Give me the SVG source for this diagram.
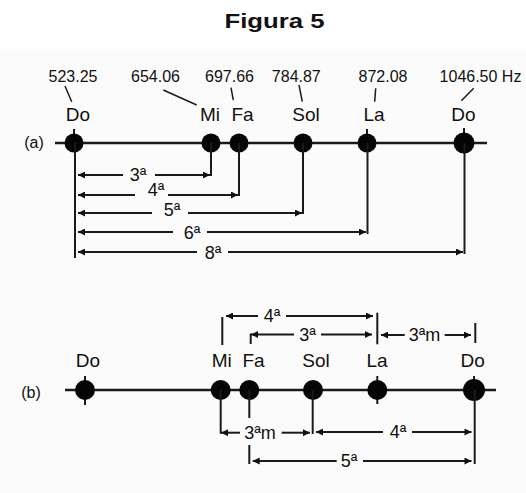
<svg xmlns="http://www.w3.org/2000/svg" width="526" height="493" viewBox="0 0 526 493">
<defs>
<marker id="ah" viewBox="0 0 10 10" refX="10" refY="5" markerWidth="9" markerHeight="7" markerUnits="userSpaceOnUse" orient="auto-start-reverse">
<path d="M0,0 L10,5 L0,10 z" fill="#111"/>
</marker>
<style>
.t{font-family:"Liberation Sans",Arial,sans-serif;fill:#111;text-anchor:middle}
.note{font-size:19px}
.freq{font-size:16px}
.iv{font-size:18px}
.axis{stroke:#1a1a1a;stroke-width:2.5;fill:none}
.ln{stroke:#1a1a1a;stroke-width:2;fill:none}
.ld{stroke:#1a1a1a;stroke-width:1.5;fill:none}
.ar{stroke:#1a1a1a;stroke-width:2;fill:none}
.arl{marker-start:url(#ah)}
.arr{marker-end:url(#ah)}
.dot{fill:#050505}
</style>
</defs>
<rect x="0" y="0" width="526" height="493" fill="#ffffff"/>
<rect x="0" y="49" width="526" height="444" fill="#fbfbfb"/>
<text x="274.5" y="28" font-family="Liberation Sans,Arial,sans-serif" font-weight="bold" font-size="21" text-anchor="middle" textLength="100" lengthAdjust="spacingAndGlyphs" fill="#111">Figura 5</text>

<!-- part (a) -->
<g id="axis-a">
<text class="t" x="34" y="148" style="font-size:16px">(a)</text>
<line class="axis" x1="55" y1="143" x2="487" y2="143"/>
</g>
<g id="a-do1">
<text class="t freq" x="73" y="82">523.25</text>
<line class="ld" x1="65" y1="86" x2="71.7" y2="101.7"/>
<text class="t note" x="78" y="121">Do</text>
<line class="ln" x1="74" y1="129" x2="74" y2="143"/>
<circle class="dot" cx="74" cy="143" r="9.5"/>
</g>
<g id="a-mi">
<text class="t freq" x="155.5" y="82">654.06</text>
<line class="ld" x1="163.3" y1="90" x2="196.7" y2="105"/>
<text class="t note" x="210" y="121">Mi</text>
<circle class="dot" cx="211" cy="143" r="9.5"/>
</g>
<g id="a-fa">
<text class="t freq" x="229.5" y="82">697.66</text>
<line class="ld" x1="231" y1="87.7" x2="233.3" y2="100"/>
<text class="t note" x="242.5" y="121">Fa</text>
<circle class="dot" cx="239" cy="143" r="9.5"/>
</g>
<g id="a-sol">
<text class="t freq" x="296.3" y="82">784.87</text>
<line class="ld" x1="299" y1="85" x2="302.3" y2="101.7"/>
<text class="t note" x="306" y="121">Sol</text>
<circle class="dot" cx="303" cy="143" r="9.5"/>
</g>
<g id="a-la">
<text class="t freq" x="383" y="82">872.08</text>
<line class="ld" x1="375.7" y1="88.3" x2="374.7" y2="101.7"/>
<text class="t note" x="374" y="121">La</text>
<line class="ln" x1="367" y1="129" x2="367" y2="143"/>
<circle class="dot" cx="367" cy="143" r="9.5"/>
</g>
<g id="a-do2">
<text class="t freq" x="480.5" y="82">1046.50 Hz</text>
<line class="ld" x1="473.7" y1="88.3" x2="461.3" y2="100.7"/>
<text class="t note" x="463.5" y="121">Do</text>
<line class="ln" x1="464" y1="128" x2="464" y2="143"/>
<circle class="dot" cx="464" cy="143" r="10.5"/>
</g>

<g id="connectors-a">
<line class="ln" x1="75" y1="143" x2="75" y2="258"/>
<line class="ln" x1="211" y1="143" x2="211" y2="176"/>
<line class="ln" x1="239" y1="143" x2="239" y2="196"/>
<line class="ln" x1="303" y1="143" x2="303" y2="214"/>
<line class="ln" x1="367.5" y1="143" x2="367.5" y2="234"/>
<line class="ln" x1="464.5" y1="143" x2="464.5" y2="254"/>

<line class="ar arl" x1="78" y1="175" x2="123" y2="175"/>
<line class="ar arr" x1="155" y1="175" x2="210" y2="175"/>
<text class="t iv" x="138" y="181">3ª</text>

<line class="ar arl" x1="78" y1="195" x2="135" y2="195"/>
<line class="ar arr" x1="168" y1="195" x2="238" y2="195"/>
<text class="t iv" x="156" y="196">4ª</text>

<line class="ar arl" x1="78" y1="213" x2="152" y2="213"/>
<line class="ar arr" x1="188" y1="213" x2="302" y2="213"/>
<text class="t iv" x="172" y="216">5ª</text>

<line class="ar arl" x1="78" y1="232" x2="173" y2="232"/>
<line class="ar arr" x1="207" y1="232" x2="366" y2="232"/>
<text class="t iv" x="192" y="239">6ª</text>

<line class="ar arl" x1="78" y1="252" x2="197" y2="252"/>
<line class="ar arr" x1="228" y1="252" x2="463" y2="252"/>
<text class="t iv" x="213" y="259">8ª</text>
</g>

<!-- part (b) -->
<g id="axis-b">
<text class="t" x="31" y="398" style="font-size:16px">(b)</text>
<line class="axis" x1="65" y1="390" x2="496" y2="390"/>
</g>
<g id="b-do1">
<text class="t note" x="88" y="367">Do</text>
<line class="ln" x1="85" y1="376" x2="85" y2="405"/>
<circle class="dot" cx="85" cy="390" r="10"/>
</g>
<g id="b-mi">
<text class="t note" x="221.7" y="367">Mi</text>
<circle class="dot" cx="220.7" cy="390" r="10"/>
</g>
<g id="b-fa">
<text class="t note" x="253.5" y="367">Fa</text>
<circle class="dot" cx="249.3" cy="390" r="10"/>
</g>
<g id="b-sol">
<text class="t note" x="316" y="367">Sol</text>
<circle class="dot" cx="313" cy="390" r="10"/>
</g>
<g id="b-la">
<text class="t note" x="377" y="367">La</text>
<line class="ln" x1="377.3" y1="376" x2="377.3" y2="404"/>
<circle class="dot" cx="377.3" cy="390" r="10"/>
</g>
<g id="b-do2">
<text class="t note" x="472.7" y="367">Do</text>
<line class="ln" x1="474" y1="376" x2="474" y2="390"/>
<circle class="dot" cx="474" cy="390" r="11"/>
</g>

<g id="connectors-b">
<!-- above -->
<line class="ln" x1="222.3" y1="317" x2="222.3" y2="345"/>
<line class="ln" x1="377.3" y1="312.7" x2="377.3" y2="344.3"/>
<line class="ln" x1="475.3" y1="323" x2="475.3" y2="343"/>
<line class="ln" x1="250.7" y1="333.5" x2="250.7" y2="344"/>

<line class="ar arl" x1="226" y1="316" x2="258" y2="316"/>
<line class="ar arr" x1="286" y1="316" x2="373" y2="316"/>
<text class="t iv" x="272" y="322">4ª</text>

<line class="ar arl" x1="251" y1="334.5" x2="294" y2="334.5"/>
<line class="ar arr" x1="321" y1="334.5" x2="372" y2="334.5"/>
<text class="t iv" x="307.5" y="341">3ª</text>

<line class="ar arl" x1="381" y1="335" x2="404.7" y2="335"/>
<line class="ar arr" x1="444.7" y1="335" x2="471" y2="335"/>
<text class="t iv" x="424.5" y="341">3ªm</text>

<!-- below -->
<line class="ln" x1="220.7" y1="390" x2="220.7" y2="433.7"/>
<line class="ln" x1="249.3" y1="390" x2="249.3" y2="418"/>
<line class="ln" x1="312.7" y1="390" x2="312.7" y2="434"/>
<line class="ln" x1="474.7" y1="390" x2="474.7" y2="464"/>
<line class="ln" x1="249.3" y1="445" x2="249.3" y2="464"/>

<line class="ar arl" x1="221" y1="432.7" x2="240" y2="432.7"/>
<line class="ar arr" x1="281.7" y1="432.7" x2="310" y2="432.7"/>
<text class="t iv" x="260" y="439">3ªm</text>

<line class="ar arl" x1="316" y1="432" x2="383" y2="432"/>
<line class="ar arr" x1="412" y1="432" x2="471.5" y2="432"/>
<text class="t iv" x="398" y="438">4ª</text>

<line class="ar arl" x1="252.7" y1="461" x2="336.7" y2="461"/>
<line class="ar arr" x1="363" y1="461" x2="471.5" y2="461"/>
<text class="t iv" x="349" y="467">5ª</text>
</g>
</svg>
